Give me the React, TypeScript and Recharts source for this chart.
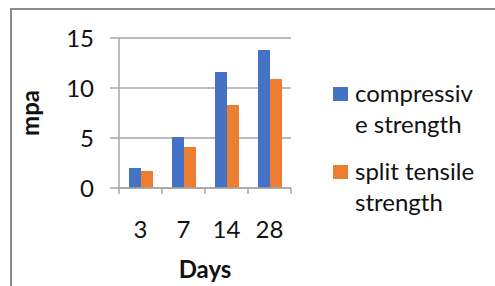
import { BarChart, Bar, XAxis, YAxis, CartesianGrid, Legend } from "recharts";

const days = ["3", "7", "14", "28"];
const compressive = [2.0, 5.1, 11.6, 13.8];
const splitTensile = [1.7, 4.1, 8.3, 10.9];
const yTicks = [0, 5, 10, 15];

const data = days.map((d, i) => ({
  day: d,
  compressive: compressive[i],
  split: splitTensile[i],
}));

const FONT = "Lato, 'Open Sans', sans-serif";
const AXIS = "#a6a6a6";

// excel-style ticks sit between the categories, not under them
const DayTick = (props: any) => {
  const { x, y, payload, index, width } = props;
  const half = payload.offset ?? width / days.length / 2;
  return (
    <g>
      <line x1={x - half} x2={x - half} y1={y - 6} y2={y} stroke={AXIS} strokeWidth={1.5} />
      {index === days.length - 1 && (
        <line x1={x + half} x2={x + half} y1={y - 6} y2={y} stroke={AXIS} strokeWidth={1.5} />
      )}
      <text x={x} y={y} dy={44} textAnchor="middle" fontSize={24} fontFamily={FONT} fill="#111">
        {payload.value}
      </text>
    </g>
  );
};

const LegendBox = (props: any) => {
  const items = props.payload ?? [];
  return (
    <div style={{ fontFamily: FONT, fontSize: 24, lineHeight: "31px", color: "#111" }}>
      {items.map((it: any, i: number) => (
        <div key={i} style={{ display: "flex", marginBottom: 16 }}>
          <div style={{ width: 15, height: 14, background: it.color, marginTop: 10, marginRight: 7, flexShrink: 0 }} />
          <div style={{ width: 122, overflowWrap: "anywhere" }}>{it.value}</div>
        </div>
      ))}
    </div>
  );
};

const App = () => {
  return (
    <div style={{ position: "absolute", left: 0, top: 0, width: 495, height: 286, background: "#fff", overflow: "hidden" }}>
      <BarChart
        width={495}
        height={286}
        data={data}
        margin={{ top: 38, right: 44, bottom: 0, left: 0 }}
        barSize={12}
        barGap={0}
      >
        <CartesianGrid vertical={false} stroke={AXIS} strokeWidth={1.5} />
        <XAxis
          dataKey="day"
          height={98}
          interval={0}
          axisLine={{ stroke: AXIS, strokeWidth: 1.5 }}
          tickLine={false}
          tickSize={6}
          tickMargin={0}
          tick={<DayTick />}
          label={{ value: "Days", position: "insideBottom", offset: 8, fontSize: 24, fontWeight: 700, fontFamily: FONT, fill: "#111" }}
        />
        <YAxis
          width={119}
          domain={[0, 15]}
          ticks={yTicks}
          interval={0}
          axisLine={{ stroke: AXIS, strokeWidth: 1.5 }}
          tickLine={{ stroke: AXIS, strokeWidth: 1.5 }}
          tickSize={9}
          tickMargin={16}
          tick={{ fontSize: 24, fontFamily: FONT, fill: "#111" }}
          label={{ value: "mpa", angle: -90, position: "center", dx: -29, fontSize: 24, fontWeight: 700, fontFamily: FONT, fill: "#111" }}
        />
        <Legend
          layout="vertical"
          align="right"
          verticalAlign="middle"
          content={<LegendBox />}
          wrapperStyle={{ left: 333, top: 77, width: 160 }}
        />
        <Bar dataKey="compressive" name="compressive strength" fill="#4472c4" isAnimationActive={false} />
        <Bar dataKey="split" name="split tensile strength" fill="#ed7d31" isAnimationActive={false} />
      </BarChart>
      <div style={{ position: "absolute", left: 10, top: 8, right: -10, bottom: -10, borderTop: "2px solid #8c8c8c", borderLeft: "2px solid #8c8c8c", pointerEvents: "none" }} />
    </div>
  );
};

export default App;
